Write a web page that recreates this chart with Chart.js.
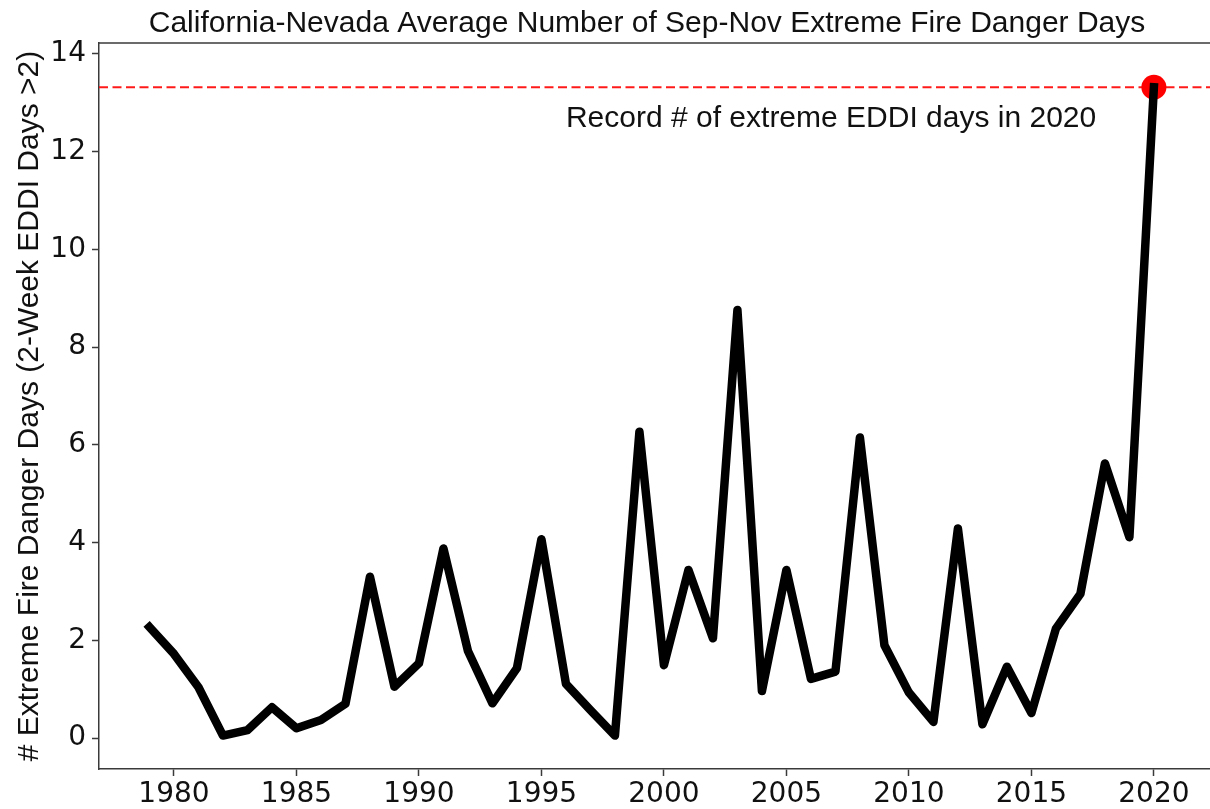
<!DOCTYPE html>
<html>
<head>
<meta charset="utf-8">
<script src="https://cdn.jsdelivr.net/npm/chart.js@4/dist/chart.umd.min.js"></script>
<style>
  html, body { margin: 0; padding: 0; background: #ffffff; }
  #wrap { width: 1210px; height: 809px; }
</style>
</head>
<body>
<div id="wrap"><canvas id="c" width="1210" height="809"></canvas></div>
<script>
// Sep-Nov seasons, 1979-2020
const years = [1979, 1980, 1981, 1982, 1983, 1984, 1985, 1986, 1987, 1988,
               1989, 1990, 1991, 1992, 1993, 1994, 1995, 1996, 1997, 1998,
               1999, 2000, 2001, 2002, 2003, 2004, 2005, 2006, 2007, 2008,
               2009, 2010, 2011, 2012, 2013, 2014, 2015, 2016, 2017, 2018,
               2019, 2020];
// average number of days with 2-week EDDI > 2
const extremeDays = [2.27, 1.72, 1.04, 0.05, 0.16, 0.63, 0.20, 0.37, 0.70, 3.30,
                     1.05, 1.53, 3.88, 1.78, 0.71, 1.43, 4.07, 1.11, 0.57, 0.05,
                     6.27, 1.49, 3.44, 2.04, 8.76, 0.96, 3.44, 1.21, 1.36, 6.15,
                     1.90, 0.93, 0.33, 4.29, 0.28, 1.46, 0.51, 2.24, 2.95, 5.62,
                     4.11, 13.32];
const xTickValues = [1980, 1985, 1990, 1995, 2000, 2005, 2010, 2015, 2020];
const yTickValues = [0, 2, 4, 6, 8, 10, 12, 14];

const titleText = 'California-Nevada Average Number of Sep-Nov Extreme Fire Danger Days';
const yAxisTitle = '# Extreme Fire Danger Days (2-Week EDDI Days >2)';
const recordText = 'Record # of extreme EDDI days in 2020';

const xMin = 1976.94, xMax = 2022.29;
const yMin = -0.634, yMax = 14.225;

const recordYear = years[years.length - 1];
const recordValue = extremeDays[extremeDays.length - 1];

const seriesPoints = years.map((yr, i) => ({ x: yr, y: extremeDays[i] }));
const recordLine = [{ x: xMin, y: recordValue }, { x: xMax, y: recordValue }];
const recordPoint = [{ x: recordYear, y: recordValue }];

const SANS = '"Liberation Sans", Arial, Helvetica, sans-serif';
const TICK_FONT = '"DejaVu Sans", Verdana, sans-serif';
const AXIS_COLOR = '#3a3a3a';

// figure title, top spine and the record note
const decorations = {
  id: 'decorations',
  afterDraw(chart) {
    const ctx = chart.ctx;
    const area = chart.chartArea;
    const xs = chart.scales.x, ys = chart.scales.y;
    ctx.save();
    // top spine
    ctx.strokeStyle = AXIS_COLOR;
    ctx.lineWidth = 1.5;
    ctx.beginPath();
    ctx.moveTo(area.left, area.top);
    ctx.lineTo(area.right, area.top);
    ctx.stroke();
    // title
    ctx.fillStyle = '#111111';
    ctx.font = '30px ' + SANS;
    ctx.textAlign = 'center';
    ctx.textBaseline = 'alphabetic';
    ctx.fillText(titleText, 647, 31.5);
    // note beside the record
    ctx.textAlign = 'left';
    ctx.fillText(recordText, xs.getPixelForValue(1996), ys.getPixelForValue(12.5));
    ctx.restore();
  }
};

new Chart(document.getElementById('c'), {
  type: 'line',
  data: {
    datasets: [
      {
        label: 'extreme days',
        data: seriesPoints,
        borderColor: '#000000',
        borderWidth: 8.5,
        borderJoinStyle: 'round',
        borderCapStyle: 'square',
        pointRadius: 0,
        tension: 0,
        fill: false,
        order: 0
      },
      {
        label: 'record point',
        data: recordPoint,
        showLine: false,
        pointRadius: 12.5,
        pointHoverRadius: 12.5,
        pointBackgroundColor: '#ff0000',
        pointBorderWidth: 0,
        borderColor: '#ff0000',
        order: 1
      },
      {
        label: 'record level',
        data: recordLine,
        borderColor: '#ff1a1a',
        borderWidth: 2,
        borderDash: [9, 4.5],
        pointRadius: 0,
        fill: false,
        order: 2
      }
    ]
  },
  options: {
    responsive: false,
    animation: false,
    events: [],
    layout: { autoPadding: false, padding: { top: 43, left: 0, right: 0, bottom: 0 } },
    plugins: {
      legend: { display: false },
      title: { display: false },
      tooltip: { enabled: false }
    },
    scales: {
      x: {
        type: 'linear',
        min: xMin,
        max: xMax,
        afterBuildTicks(scale) { scale.ticks = xTickValues.map(v => ({ value: v })); },
        afterFit(scale) {
          scale.height = 40;
          scale.paddingLeft = 0;
          scale.paddingRight = 0;
        },
        ticks: {
          callback: v => String(v),
          color: '#111111',
          font: { family: TICK_FONT, size: 28 },
          padding: 2,
          maxRotation: 0,
          autoSkip: false
        },
        grid: {
          display: true,
          drawOnChartArea: false,
          drawTicks: true,
          tickLength: 7,
          tickWidth: 1.5,
          tickColor: AXIS_COLOR
        },
        border: { display: true, color: AXIS_COLOR, width: 1.5 }
      },
      y: {
        type: 'linear',
        min: yMin,
        max: yMax,
        afterBuildTicks(scale) { scale.ticks = yTickValues.map(v => ({ value: v })); },
        afterFit(scale) {
          scale.width = 99;
          scale.paddingTop = 0;
          scale.paddingBottom = 0;
        },
        ticks: {
          callback: v => String(v),
          color: '#111111',
          font: { family: TICK_FONT, size: 28 },
          padding: 6,
          autoSkip: false
        },
        grid: {
          display: true,
          drawOnChartArea: false,
          drawTicks: true,
          tickLength: 7,
          tickWidth: 1.5,
          tickColor: AXIS_COLOR
        },
        border: { display: true, color: AXIS_COLOR, width: 1.5 },
        title: {
          display: true,
          text: yAxisTitle,
          color: '#111111',
          font: { family: SANS, size: 30 },
          padding: { top: 12, bottom: 0 }
        }
      }
    }
  },
  plugins: [decorations]
});
</script>
</body>
</html>
